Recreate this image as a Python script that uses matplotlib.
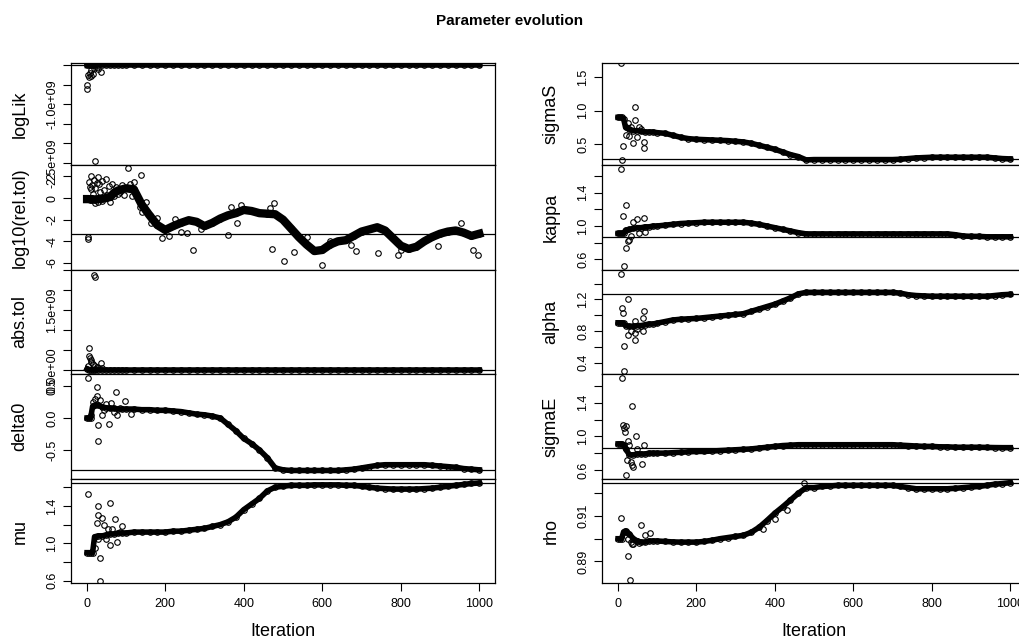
import numpy as np
import matplotlib.pyplot as plt

plt.rcParams['font.family'] = ['Liberation Sans', 'DejaVu Sans']

ITER = [1, 5, 10, 15, 20, 30, 40, 50, 60, 70, 80, 90, 100,
        120, 140, 160, 180, 200, 220, 240, 260, 280, 300,
        320, 340, 360, 380, 400, 420, 440, 460, 480, 500,
        520, 540, 560, 580, 600, 620, 640, 660, 680, 700,
        720, 740, 760, 780, 800, 820, 840, 860, 880, 900,
        920, 940, 960, 980, 1000]

LOGLIK = [-8.0e6, -3.1e6, -1.2e6, -6.0e5, -2.0e5, -5.0e4, -2.0e4, -1.0e4, -8.0e3, -6.0e3, -5.0e3, -4.5e3, -4.0e3,
          -3.8e3, -3.7e3, -3.6e3, -3.5e3, -3.5e3, -3.4e3, -3.4e3, -3.3e3, -3.3e3, -3.2e3,
          -3.2e3, -3.1e3, -3.1e3, -3.0e3, -3.0e3, -3.0e3, -2.9e3, -2.9e3, -2.9e3, -2.9e3,
          -2.9e3, -2.9e3, -2.9e3, -2.9e3, -2.9e3, -2.9e3, -2.9e3, -2.9e3, -2.9e3, -2.9e3,
          -2.9e3, -2.9e3, -2.9e3, -2.9e3, -2.9e3, -2.9e3, -2.9e3, -2.9e3, -2.9e3, -2.9e3,
          -2.9e3, -2.9e3, -2.9e3, -2.9e3, -2.9e3]
LOG10_REL_TOL = [-0.1, -0.1, -0.15, -0.1, -0.15, -0.1, -0.05, 0.0, 0.1, 0.5, 0.7, 0.8, 0.9,
                 0.8, -0.6, -1.6, -2.5, -2.95, -2.6, -2.3, -2.05, -2.2, -2.6,
                 -2.3, -1.9, -1.6, -1.4, -1.1, -1.2, -1.4, -1.45, -1.5, -2.0,
                 -2.8, -3.6, -4.3, -4.9, -4.8, -4.3, -4.0, -3.9, -3.5, -3.1,
                 -2.9, -2.7, -3.0, -3.7, -4.4, -4.7, -4.5, -4.0, -3.6, -3.3,
                 -3.1, -3.0, -3.2, -3.5, -3.3]
ABS_TOL = [3.0e7, 1.0e7, 5.0e6, 2.0e6, 1.0e6, 5.0e5, 2.0e5, 1.0e5, 5.0e4, 2.0e4, 1.0e4, 5.0e3, 2.0e3,
           1.0e3, 1.0e3, 1.0e3, 1.0e3, 1.0e3, 1.0e3, 1.0e3, 1.0e3, 1.0e3, 1.0e3,
           1.0e3, 1.0e3, 1.0e3, 1.0e3, 1.0e3, 1.0e3, 1.0e3, 1.0e3, 1.0e3, 1.0e3,
           1.0e3, 1.0e3, 1.0e3, 1.0e3, 1.0e3, 1.0e3, 1.0e3, 1.0e3, 1.0e3, 1.0e3,
           1.0e3, 1.0e3, 1.0e3, 1.0e3, 1.0e3, 1.0e3, 1.0e3, 1.0e3, 1.0e3, 1.0e3,
           1.0e3, 1.0e3, 1.0e3, 1.0e3, 1.0e3]
DELTA0 = [0.0, 0.0, 0.0, 0.18, 0.2, 0.2, 0.17, 0.16, 0.15, 0.15, 0.14, 0.14, 0.14,
          0.14, 0.13, 0.13, 0.12, 0.12, 0.11, 0.1, 0.08, 0.06, 0.05,
          0.03, 0.0, -0.1, -0.2, -0.32, -0.4, -0.5, -0.62, -0.78, -0.81,
          -0.82, -0.82, -0.82, -0.82, -0.82, -0.82, -0.82, -0.81, -0.8, -0.78,
          -0.76, -0.74, -0.73, -0.73, -0.73, -0.73, -0.73, -0.73, -0.74, -0.75,
          -0.76, -0.77, -0.79, -0.8, -0.81]
MU = [0.9, 0.9, 0.9, 0.9, 1.07, 1.08, 1.08, 1.09, 1.1, 1.1, 1.11, 1.11, 1.11,
      1.12, 1.12, 1.12, 1.12, 1.12, 1.13, 1.13, 1.14, 1.15, 1.16,
      1.18, 1.2, 1.23, 1.28, 1.36, 1.42, 1.48, 1.56, 1.6, 1.61,
      1.62, 1.62, 1.62, 1.625, 1.625, 1.625, 1.625, 1.62, 1.62, 1.61,
      1.6, 1.59, 1.585, 1.58, 1.58, 1.58, 1.58, 1.585, 1.59, 1.6,
      1.61, 1.62, 1.63, 1.64, 1.645]
SIGMA_S = [0.9, 0.9, 0.9, 0.88, 0.75, 0.72, 0.7, 0.7, 0.69, 0.68, 0.68, 0.68, 0.67,
           0.66, 0.63, 0.6, 0.58, 0.57, 0.565, 0.56, 0.555, 0.55, 0.54,
           0.53, 0.51, 0.48, 0.45, 0.42, 0.38, 0.34, 0.31, 0.26, 0.265,
           0.265, 0.265, 0.265, 0.265, 0.265, 0.265, 0.265, 0.265, 0.265, 0.265,
           0.27, 0.28, 0.29, 0.295, 0.3, 0.3, 0.3, 0.3, 0.3, 0.3,
           0.3, 0.3, 0.29, 0.28, 0.275]
KAPPA = [0.91, 0.91, 0.91, 0.91, 0.95, 0.96, 0.97, 0.98, 0.98, 0.99, 0.99, 1.0, 1.0,
         1.01, 1.02, 1.03, 1.035, 1.04, 1.045, 1.045, 1.045, 1.045, 1.045,
         1.045, 1.035, 1.02, 1.0, 0.98, 0.96, 0.94, 0.92, 0.905, 0.905,
         0.905, 0.905, 0.905, 0.905, 0.905, 0.905, 0.905, 0.905, 0.905, 0.905,
         0.905, 0.905, 0.905, 0.905, 0.905, 0.905, 0.905, 0.895, 0.88, 0.875,
         0.875, 0.87, 0.87, 0.87, 0.87]
ALPHA = [0.905, 0.905, 0.905, 0.9, 0.87, 0.86, 0.86, 0.87, 0.87, 0.88, 0.89, 0.89, 0.9,
         0.92, 0.94, 0.95, 0.955, 0.96, 0.97, 0.98, 0.99, 1.0, 1.01,
         1.02, 1.05, 1.08, 1.11, 1.14, 1.18, 1.22, 1.27, 1.29, 1.29,
         1.29, 1.29, 1.29, 1.29, 1.29, 1.29, 1.29, 1.29, 1.29, 1.29,
         1.28, 1.26, 1.25, 1.245, 1.24, 1.24, 1.24, 1.24, 1.24, 1.24,
         1.24, 1.24, 1.25, 1.26, 1.265]
SIGMA_E = [0.91, 0.91, 0.91, 0.9, 0.85, 0.78, 0.78, 0.79, 0.79, 0.79, 0.8, 0.8, 0.8,
           0.8, 0.805, 0.81, 0.815, 0.82, 0.82, 0.825, 0.83, 0.835, 0.84,
           0.845, 0.85, 0.86, 0.87, 0.88, 0.89, 0.895, 0.9, 0.9, 0.9,
           0.9, 0.9, 0.9, 0.9, 0.9, 0.9, 0.9, 0.9, 0.9, 0.9,
           0.895, 0.89, 0.885, 0.88, 0.88, 0.875, 0.875, 0.87, 0.87, 0.87,
           0.87, 0.868, 0.866, 0.865, 0.865]
RHO = [0.9, 0.9, 0.9, 0.903, 0.9035, 0.902, 0.9, 0.899, 0.8985, 0.8985, 0.899, 0.899, 0.899,
       0.8988, 0.8986, 0.8985, 0.8985, 0.8985, 0.8988, 0.8993, 0.9, 0.9005, 0.901,
       0.9015, 0.9028, 0.905, 0.908, 0.9112, 0.914, 0.917, 0.92, 0.9225, 0.9225,
       0.923, 0.9232, 0.9235, 0.9235, 0.9235, 0.9235, 0.9235, 0.9235, 0.9235, 0.9235,
       0.923, 0.9225, 0.922, 0.922, 0.922, 0.922, 0.922, 0.9222, 0.9225, 0.9228,
       0.923, 0.9235, 0.924, 0.9243, 0.9247]

# scattered points away from the main trend
LOGLIK_OUT_X = [2, 2, 4, 6, 8, 10, 12, 15, 18, 22, 25, 30, 36]
LOGLIK_OUT_Y = [-5.1e8, -6.0e8, -2.5e8, -3.0e8, -2.0e8, -2.7e8, -1.3e8, -2.2e8, -8.0e7, -2.45e9, -5.0e7, -1.0e8, -1.7e8]
LOG10_OUT_X = [3, 4, 6, 8, 10, 12, 14, 16, 18, 20, 22, 25, 28, 30, 32, 35, 38, 40, 44, 48,
               52, 56, 60, 65, 70, 75, 80, 85, 90, 95, 104, 110, 115, 120, 130, 135, 138, 140, 150, 165,
               180, 193, 210, 225, 240, 255, 270, 290, 359, 367, 384, 393, 468, 471, 476, 503, 529, 560, 599, 620,
               673, 686, 741, 792, 801, 895, 954, 984, 997]
LOG10_OUT_Y = [-3.6, -3.8, 1.5, 1.0, 0.8, 2.0, 1.2, 0.4, 1.7, -0.5, 0.9, 1.4, 1.9, -0.4, 1.3, 0.6, 1.6, -0.3, 0.7, 1.8,
               0.3, 1.1, -0.4, 1.3, 0.2, 1.0, 0.4, 0.6, 1.2, 0.3, 2.75, 1.3, 0.2, 1.5, 0.0, -0.8, 2.1, -1.3, -0.4, -2.3,
               -1.8, -3.7, -3.5, -1.9, -3.1, -3.2, -4.8, -2.9, -3.4, -0.8, -2.35, -0.65, -0.95, -4.7, -0.5, -5.8, -5.0, -3.6, -6.2, -4.0,
               -4.3, -4.9, -5.1, -5.3, -4.8, -4.4, -2.3, -4.8, -5.3]
ABS_TOL_OUT_X = [3, 5, 6, 8, 10, 12, 15, 18, 20, 22, 25, 30, 36, 40]
ABS_TOL_OUT_Y = [1.0e8, 5.5e8, 3.5e8, 3.0e8, 2.0e8, 2.5e8, 1.5e8, 2.38e9, 2.32e9, 1.0e8, 8.0e7, 5.0e7, 1.8e8, 4.0e7]
DELTA0_OUT_X = [3, 10, 15, 20, 25, 27, 30, 30, 35, 40, 45, 50, 57, 61, 70, 74, 78, 85, 97, 112]
DELTA0_OUT_Y = [0.62, 0.05, 0.25, 0.3, 0.35, 0.49, -0.11, -0.36, 0.28, 0.05, 0.12, 0.22, -0.1, 0.24, 0.1, 0.4, 0.05, 0.15, 0.26, 0.06]
MU_OUT_X = [3, 20, 25, 28, 30, 30, 34, 34, 38, 45, 50, 55, 59, 59, 65, 72, 76, 85, 91]
MU_OUT_Y = [1.53, 0.95, 1.22, 1.3, 1.4, 1.05, 0.84, 0.6, 1.27, 1.2, 1.05, 1.15, 1.43, 0.98, 1.15, 1.26, 1.01, 1.12, 1.18]
SIGMA_S_OUT_X = [8, 12, 14, 20, 25, 30, 35, 39, 43, 43, 50, 54, 60, 67, 67]
SIGMA_S_OUT_Y = [1.72, 0.26, 0.475, 0.63, 0.82, 0.62, 0.75, 0.51, 1.05, 0.86, 0.6, 0.76, 0.72, 0.53, 0.44]
KAPPA_OUT_X = [8, 14, 16, 20, 22, 26, 30, 35, 40, 48, 55, 67, 69]
KAPPA_OUT_Y = [1.69, 1.12, 0.52, 1.25, 0.73, 0.82, 0.83, 0.88, 1.05, 1.09, 0.92, 1.1, 0.93]
ALPHA_OUT_X = [8, 12, 14, 16, 16, 26, 26, 35, 43, 43, 44, 50, 65, 65, 67]
ALPHA_OUT_Y = [1.52, 1.09, 1.03, 0.61, 0.29, 1.2, 0.75, 0.8, 0.69, 0.78, 0.93, 0.83, 0.97, 0.8, 1.05]
SIGMA_E_OUT_X = [12, 14, 16, 18, 20, 20, 24, 25, 30, 35, 37, 37, 40, 46, 50, 61, 67]
SIGMA_E_OUT_Y = [1.69, 1.13, 1.1, 1.05, 1.12, 0.54, 0.72, 0.95, 0.9, 0.7, 1.36, 0.66, 0.64, 1.0, 0.85, 0.67, 0.9]
RHO_OUT_X = [8, 20, 25, 27, 31, 35, 37, 40, 50, 55, 59, 70, 82, 370, 400, 430, 475]
RHO_OUT_Y = [0.909, 0.903, 0.9, 0.8925, 0.882, 0.8985, 0.8977, 0.8975, 0.899, 0.898, 0.906, 0.9015, 0.9026,
             0.9045, 0.9085, 0.9125, 0.9245]

# (label, trend, outliers x, outliers y, ylim, ticks, tick labels, band width)
left = [
    ("logLik", LOGLIK, LOGLIK_OUT_X, LOGLIK_OUT_Y, (-2.551e9, 0.051e9),
     [-2.5e9, -2.0e9, -1.5e9, -1.0e9, -0.5e9, 0.0], ["-2.5e+09", "", "", "-1.0e+09", "", ""], 4),
    ("log10(rel.tol)", LOG10_REL_TOL, LOG10_OUT_X, LOG10_OUT_Y, (-6.65, 3.05),
     [-6, -4, -2, 0, 2], ["-6", "-4", "-2", "0", "2"], 6),
    ("abs.tol", ABS_TOL, ABS_TOL_OUT_X, ABS_TOL_OUT_Y, (-0.1e9, 2.5e9),
     [0.0, 0.5e9, 1.0e9, 1.5e9, 2.0e9, 2.5e9], ["0.0e+00", "", "", "1.5e+09", "", ""], 4),
    ("delta0", DELTA0, DELTA0_OUT_X, DELTA0_OUT_Y, (-0.953, 0.6875),
     [-0.5, 0.0, 0.5], ["-0.5", "0.0", "0.5"], 4),
    ("mu", MU, MU_OUT_X, MU_OUT_Y, (0.5754, 1.688),
     [0.6, 0.8, 1.0, 1.2, 1.4, 1.6], ["0.6", "", "1.0", "", "1.4", ""], 4),
]
right = [
    ("sigmaS", SIGMA_S, SIGMA_S_OUT_X, SIGMA_S_OUT_Y, (0.1835, 1.717),
     [0.5, 1.0, 1.5], ["0.5", "1.0", "1.5"], 4),
    ("kappa", KAPPA, KAPPA_OUT_X, KAPPA_OUT_Y, (0.47, 1.735),
     [0.6, 0.8, 1.0, 1.2, 1.4, 1.6], ["0.6", "", "1.0", "", "1.4", ""], 4),
    ("alpha", ALPHA, ALPHA_OUT_X, ALPHA_OUT_Y, (0.257, 1.573),
     [0.4, 0.6, 0.8, 1.0, 1.2, 1.4], ["0.4", "", "0.8", "", "1.2", ""], 4),
    ("sigmaE", SIGMA_E, SIGMA_E_OUT_X, SIGMA_E_OUT_Y, (0.492, 1.742),
     [0.6, 0.8, 1.0, 1.2, 1.4, 1.6], ["0.6", "", "1.0", "", "1.4", ""], 4),
    ("rho", RHO, RHO_OUT_X, RHO_OUT_Y, (0.8805, 0.9263),
     [0.89, 0.90, 0.91, 0.92], ["0.89", "", "0.91", ""], 4),
]

W, H = 1019.0, 643.0
fig = plt.figure(figsize=(W / 100, H / 100), dpi=100)
edges = [63, 165, 270, 374, 479, 583]
col_x = [71, 602]
col_w = 424

for c, column in enumerate([left, right]):
    for r, (name, trend, ox, oy, ylim, ticks, labels, band) in enumerate(column):
        top, bot = edges[r], edges[r + 1]
        ax = fig.add_axes([col_x[c] / W, 1 - bot / H, col_w / W, (bot - top) / H])
        ax.plot(ITER, trend, '-', color='black', lw=band, solid_joinstyle='round', zorder=2)
        ax.plot(ITER, trend, 'o', mfc='none', mec='black', ms=4, mew=0.8, zorder=3)
        ax.plot(ox, oy, 'o', mfc='none', mec='black', ms=4, mew=0.8, zorder=3)
        ax.axhline(trend[-1], color='black', lw=0.9, zorder=1)
        ax.set_xlim(-40, 1040)
        ax.set_ylim(ylim)
        ax.set_yticks(ticks, labels=labels, fontsize=9)
        for lbl in ax.get_yticklabels():
            lbl.set_rotation(90)
            lbl.set_va('center')
        ax.tick_params(axis='y', length=6, width=0.8, pad=3)
        for sp in ax.spines.values():
            sp.set_linewidth(0.9)
        ax.set_ylabel(name, fontsize=13, va='center')
        ax.yaxis.set_label_coords(-51 / col_w, 0.5)
        if r == len(column) - 1:
            ax.set_xticks([0, 200, 400, 600, 800, 1000])
            ax.tick_params(axis='x', length=6, width=0.8, pad=5, labelsize=9)
            ax.set_xlabel("Iteration", fontsize=13, va='center')
            ax.xaxis.set_label_coords(0.5, -49 / (bot - top))
        else:
            ax.set_xticks([])

fig.text(0.5, 1 - 21 / H, "Parameter evolution", ha='center', va='center',
         fontsize=11, fontweight='bold')

plt.savefig("out.png", dpi=100)
